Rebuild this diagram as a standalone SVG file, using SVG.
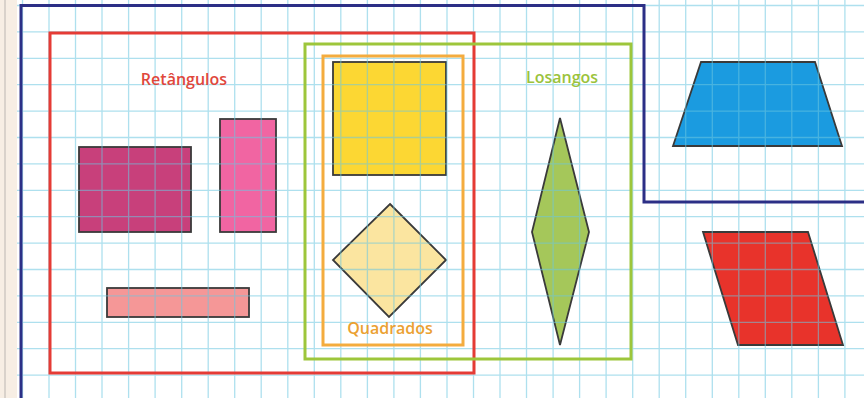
<svg xmlns="http://www.w3.org/2000/svg" width="864" height="398" viewBox="0 0 864 398">
<style>
.shape{stroke:#3a3a3a;stroke-width:1.8;stroke-linejoin:miter}
.frame{fill:none;stroke-width:3}
.grid{fill:none;stroke:#6cc6e0;stroke-width:1.3;opacity:0.55}
.lbl{font-family:"Open Sans","Noto Sans",sans-serif;font-weight:600;font-size:16px;text-anchor:middle}
</style>
<rect width="864" height="398" fill="#ffffff"/>
<g id="margin">
<rect x="0" y="0" width="17" height="398" fill="#f7eee4"/>
<line x1="5" y1="0" x2="5" y2="398" stroke="#cfc9c3" stroke-width="1.5"/>
</g>
<g id="shapes">
<g id="rect-purple"><rect class="shape" x="79" y="147" width="112" height="85" fill="#c8407b"/></g>
<g id="rect-pink"><rect class="shape" x="220" y="119" width="56" height="113" fill="#f165a2"/></g>
<g id="rect-bar"><rect class="shape" x="107" y="288" width="142" height="29" fill="#f59797"/></g>
<g id="square-yellow"><rect class="shape" x="333" y="62" width="113" height="113" fill="#fcd733"/></g>
<g id="square-diamond"><polygon class="shape" points="390,204 446,260 389,317 333,260" fill="#fbe5a0"/></g>
<g id="rhombus-green"><polygon class="shape" points="560,118 589,232 560,345 532,232" fill="#a5c75a"/></g>
<g id="trapezoid-blue"><polygon class="shape" points="701,62 815,62 842,146 673,146" fill="#1b9be0"/></g>
<g id="parallelogram-red"><polygon class="shape" points="703,232 808,232 843,345 738,345" fill="#e8332b"/></g>
</g>
<path class="grid" d="M22.5 0V398M49 0V398M75.5 0V398M102 0V398M128.6 0V398M155.1 0V398M181.7 0V398M208.2 0V398M234.7 0V398M261.2 0V398M287.8 0V398M314.3 0V398M340.8 0V398M367.4 0V398M393.9 0V398M420.4 0V398M447 0V398M473.5 0V398M500 0V398M526.5 0V398M553.1 0V398M579.6 0V398M606.1 0V398M632.7 0V398M659.2 0V398M685.7 0V398M712.3 0V398M738.8 0V398M765.3 0V398M791.8 0V398M818.4 0V398M844.9 0V398M17 5.5H864M17 31.9H864M17 58.3H864M17 84.7H864M17 111.1H864M17 137.5H864M17 163.9H864M17 190.3H864M17 216.7H864M17 243.1H864M17 269.5H864M17 295.9H864M17 322.3H864M17 348.7H864M17 375.1H864"/>
<g id="frames">
<path id="frame-quadrilateros" class="frame" stroke="#2c2f86" d="M21 400V5.5H644V202H866"/>
<rect id="frame-retangulos" class="frame" stroke="#e53b35" x="50" y="33" width="424" height="340"/>
<rect id="frame-losangos" class="frame" stroke="#9dc63b" x="305" y="44" width="326" height="315"/>
<rect id="frame-quadrados" class="frame" stroke="#f4ac3e" x="323" y="56" width="140" height="289"/>
</g>
<g id="labels">
<text class="lbl" x="184" y="85" fill="#e0473c">Retângulos</text>
<text class="lbl" x="562" y="83" fill="#9bc33c">Losangos</text>
<text class="lbl" x="390" y="334" fill="#eba132">Quadrados</text>
</g>
</svg>
